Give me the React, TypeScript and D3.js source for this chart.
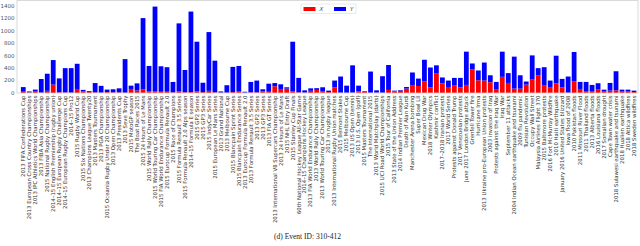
import React from "react";
import * as d3 from "d3";

const categories: string[] = [
  "2013 FIFA Confederations Cup",
  "2013 European Cross Country Championships",
  "2013 IPC Athletics World Championships",
  "2013 FIBA Asia Championship",
  "2015 National Rugby Championship",
  "2014–15 English Premiership (rugby union)",
  "2014–15 European Rugby Challenge Cup",
  "2014–15 European Rugby Champions Cup",
  "2014–15 Pro12",
  "2015 Rugby World Cup",
  "2015 Six Nations Championship",
  "2013 Champions League Twenty20",
  "2013 Masters Tournament",
  "2013 PGA Championship",
  "2015 Oceania Rugby Under 20 Championship",
  "2013 Open Championship",
  "2013 Presidents Cup",
  "2013 Seve Trophy",
  "2015 MotoGP season",
  "The Boat Races 2015",
  "2015 24 Hours of Le Mans",
  "2015 World Rally Championship",
  "2015 World Touring Car Championship",
  "2015 FIA World Endurance Championship",
  "2015 Eurocup Formula Renault 2.0",
  "2015 Race of Champions",
  "2015 Formula Renault 3.5 Series",
  "2015 Formula Renault 2.0 Alps season",
  "2014–15 Formula E season",
  "2015 GP2 Series",
  "2015 GP3 Series",
  "2015 IndyCar Series",
  "2015 European Le Mans Series",
  "2013 Grand National",
  "2013 Melbourne Cup",
  "2015 Blancpain Sprint Series",
  "2015 Blancpain Endurance Series",
  "2013 Eurocup Formula Renault 2.0",
  "2013 Formula Renault 3.5 Series",
  "2013 GP2 Series",
  "2013 GP3 Series",
  "2013 FIA GT Series",
  "2013 International V8 Supercars Championship",
  "2013 24 Hours of Le Mans",
  "2015 NHL Entry Draft",
  "2015 Stanley Cup Finals",
  "60th National Hockey League All-Star Game",
  "2014–15 Champions Hockey League",
  "2013 FIA World Endurance Championship",
  "2013 World Rally Championship",
  "2013 World Touring Car Championship",
  "2013 in rugby league",
  "2013 International Rugby Union matches",
  "2015 Belmont Stakes",
  "2015 Melbourne Cup",
  "2013 US Open (tennis)",
  "2013 U.S. Open (golf)",
  "2015 Masters Tournament",
  "The International 2015",
  "2013 World Matchplay (darts)",
  "2015 UCI Road World Championships",
  "2015 Tour of California",
  "2013 State of the Union Address",
  "2014 Indian Premier League",
  "Death of Alan Kurdi",
  "Manchester Arena bombing",
  "Super Bowl LII",
  "Mexican Drug War",
  "2018 Winter Olympics",
  "Kashmir conflict",
  "2017–2018 Iranian protests",
  "2017 World Series",
  "Protests against Donald Trump",
  "2017 Venezuelan protests",
  "June 2017 London Bridge attack",
  "Grenfell Tower fire",
  "Hurricane Irma",
  "2013 Ukraine pro-European Union protests",
  "2003 invasion of Iraq",
  "Protests against the Iraq War",
  "Iraq War",
  "September 11 attacks",
  "2004 Indian Ocean earthquake and tsunami",
  "2009 flu pandemic",
  "Tunisian Revolution",
  "Occupy Wall Street",
  "Malaysia Airlines Flight 370",
  "2015 Baltimore protests",
  "2016 Fort McMurray Wildfire",
  "2010 Haiti earthquake",
  "January 2016 United States blizzard",
  "Iowa flood of 2008",
  "2010 Pakistan floods",
  "2011 Missouri River Flood",
  "2011 Thailand floods",
  "2013 Alberta floods",
  "2016 Louisiana floods",
  "2017 Somalian drought",
  "Cape Town water crisis",
  "2018 Sulawesi earthquake and tsunami",
  "2018 Hualien earthquake",
  "2018 Attica wildfires",
  "2018 Sweden wildfires",
];

const seriesX: number[] = [
  20, 8, 30, 5, 35, 135, 12, 8, 5, 65,
  25, 15, 10, 5, 15, 10, 10, 3, 65, 40,
  60, 25, 25, 20, 20, 10, 25, 10, 15, 25,
  15, 35, 10, 5, 5, 15, 30, 5, 10, 10,
  25, 20, 108, 65, 70, 25, 10, 5, 35, 50,
  30, 15, 92, 3, 3, 5, 25, 20, 3, 5,
  3, 50, 25, 38, 70, 118, 113, 190, 92, 320,
  157, 97, 118, 92, 130, 378, 205, 200, 173, 54,
  260, 162, 70, 70, 135, 215, 280, 118, 86, 157,
  92, 5, 190, 65, 22, 22, 54, 22, 38, 43,
  22, 22, 16,
];

const seriesY: number[] = [
  75, 17, 25, 220, 275, 395, 223, 392, 395, 405,
  25, 15, 150, 110, 40, 50, 65, 542, 53, 115,
  1145, 410, 1365, 410, 395, 168, 1095, 360, 1295, 800,
  150, 945, 510, 20, 120, 405, 405, 15, 168, 190,
  35, 130, 52, 75, 22, 800, 233, 38, 40, 28,
  62, 23, 108, 262, 115, 440, 93, 10, 342, 38,
  267, 400, 13, 10, 27, 212, 119, 345, 318, 125,
  93, 103, 125, 151, 535, 97, 157, 290, 112, 124,
  405, 158, 515, 215, 50, 390, 120, 297, 114, 443,
  135, 260, 470, 113, 156, 108, 103, 32, 124, 307,
  32, 32, 22,
];

const yTicks: number[] = [0, 200, 400, 600, 800, 1000, 1200, 1400];
const seriesNames: string[] = ["X", "Y"];
const seriesColors: string[] = ["#ff0000", "#0000ff"];
const caption = "(d) Event ID: 310-412";

export default function App() {
  const left = 17, right = 638, top = 0.5, bottom = 93;
  const n = categories.length;
  const x = d3.scaleLinear().domain([-1.05, n - 1 + 0.67]).range([left, right]);
  const y = d3.scaleLinear().domain([0, 1488]).range([bottom, top]);
  const step = x(1) - x(0);
  const bw = step * 0.8;
  const stacked = d3.stack<number>().keys([0, 1] as any).value((i: number, k: any) => (k === 0 ? seriesX[i] : seriesY[i]))(d3.range(n));

  return (
    <svg width={640} height={246} style={{ position: "absolute", left: 0, top: 0, background: "#fff" }}
      fontFamily="DejaVu Sans">
      <rect x={0} y={0} width={640} height={246} fill="#fff" />
      {stacked.map((layer, li) => (
        <g key={li} fill={seriesColors[li]}>
          {layer.map((d, i) => (
            <rect key={i} x={x(i) - bw / 2} y={y(d[1])} width={bw} height={Math.max(0, y(d[0]) - y(d[1]))} />
          ))}
        </g>
      ))}
      <rect x={left} y={top} width={right - left} height={bottom - top} fill="none" stroke="#d0d0d0" strokeWidth={0.8} />
      {yTicks.map((t) => (
        <text key={t} x={left - 2.5} y={y(t)} dy="0.35em" textAnchor="end" fontSize={5.5} fill="#555">{t}</text>
      ))}
      {categories.map((c, i) => (
        <text key={i} transform={`translate(${x(i) + 1.8},${bottom + 2.5}) rotate(-90)`} textAnchor="end" fontSize={5.4} fill="#333">{c}</text>
      ))}
      <g transform="translate(301,4)">
        <rect x={0} y={0} width={55} height={9.5} fill="#fff" stroke="#dddddd" strokeWidth={0.6} />
        <rect x={2.5} y={3} width={12} height={4} fill={seriesColors[0]} />
        <text x={18.5} y={7.3} fontSize={5.5} fontStyle="italic" fill="#444">{seriesNames[0]}</text>
        <rect x={33} y={3} width={12} height={4} fill={seriesColors[1]} />
        <text x={49} y={7.3} fontSize={5.5} fontStyle="italic" fill="#444">{seriesNames[1]}</text>
      </g>
      <text x={307.5} y={238.5} textAnchor="middle" fontFamily="Liberation Serif" fontSize={7.5} fill="#222">{caption}</text>
    </svg>
  );
}
